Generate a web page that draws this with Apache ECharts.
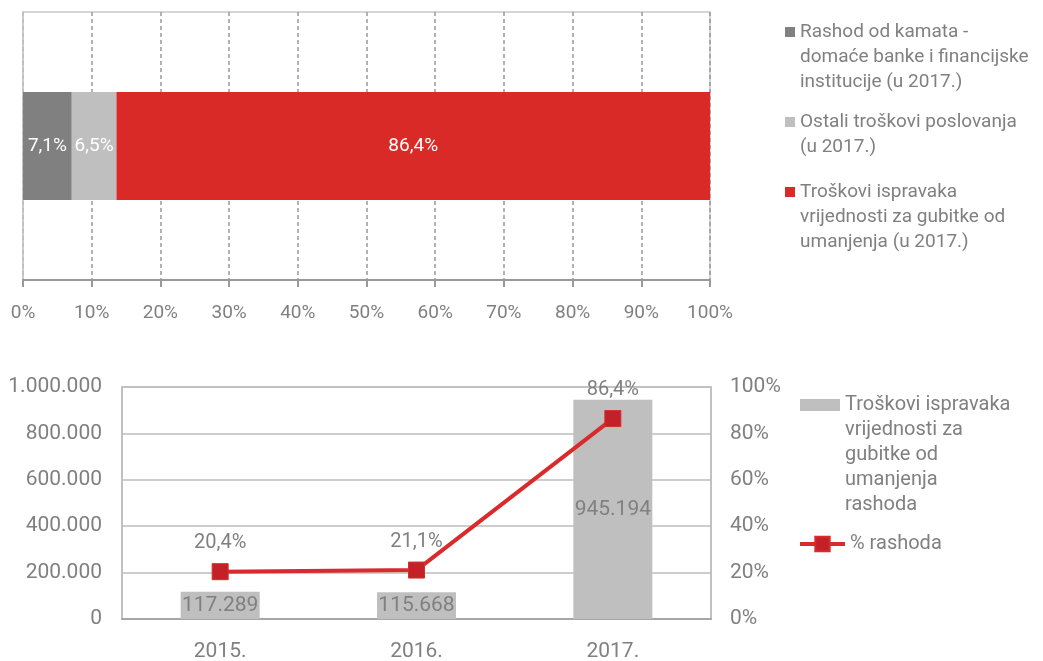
<!DOCTYPE html>
<html>
<head>
<meta charset="utf-8">
<script src="https://cdn.jsdelivr.net/npm/echarts@6/dist/echarts.min.js"></script>
<style>
	html, body { margin: 0; padding: 0; background: #fff; }
	#chart { width: 1043px; height: 661px; }
</style>
</head>
<body>
<div id="chart"></div>
<script>
// top chart: cost structure in 2017 (%)
const shareNames = [
	"Rashod od kamata -\ndomaće banke i financijske\ninstitucije (u 2017.)",
	"Ostali troškovi poslovanja\n(u 2017.)",
	"Troškovi ispravaka\nvrijednosti za gubitke od\numanjenja (u 2017.)"
];
const shareValues = [7.1, 6.5, 86.4];
const shareColors = ["#808080", "#bfbfbf", "#da2a27"];

// bottom chart
const years = ["2015.", "2016.", "2017."];
const impairmentName = "Troškovi ispravaka\nvrijednosti za\ngubitke od\numanjenja\nrashoda";
const impairment = [117289, 115668, 945194];
const pctName = "% rashoda";
const pctOfCosts = [20.4, 21.1, 86.4];

const FONT = "Roboto, 'Noto Sans', sans-serif";
const GREY = "#808080";
const LINE_H = 25;

function thousands(v) {
	return String(v).replace(/\B(?=(\d{3})+(?!\d))/g, ".");
}
function pct(v) {
	return v.toFixed(1).replace(".", ",") + "%";
}

// one legend per entry; blank lines in front keep the icon on the first text line
function legendFor(name, left, firstLineY, size, opts) {
	const extra = name.split("\n").length - 1;
	return Object.assign({
		orient: "vertical",
		left: left,
		top: firstLineY - LINE_H / 2 - extra * LINE_H,
		padding: 0,
		itemWidth: 10,
		itemHeight: 10,
		icon: "rect",
		selectedMode: false,
		data: [name],
		formatter: function (n) {
			return "\n".repeat(extra) + n;
		},
		textStyle: {
			color: GREY,
			fontSize: size,
			fontFamily: FONT,
			lineHeight: LINE_H
		}
	}, opts || {});
}

const chart = echarts.init(document.getElementById("chart"));

chart.setOption({
	animation: false,
	textStyle: { fontFamily: FONT },
	legend: [
		legendFor(shareNames[0], 785, 32, 19),
		legendFor(shareNames[1], 785, 122, 19),
		legendFor(shareNames[2], 785, 192, 19),
		legendFor(impairmentName, 800, 405, 20, { itemWidth: 40, itemHeight: 12 }),
		legendFor(pctName, 798, 544, 20, {
			itemWidth: 45,
			itemHeight: 18,
			icon: null,
			lineStyle: { width: 4 }
		})
	],
	grid: [
		{
			left: 23,
			top: 12,
			width: 687,
			height: 268,
			show: true,
			borderColor: "#c8c8c8",
			borderWidth: 1.5,
			containLabel: false,
			outerBoundsMode: "none"
		},
		{
			left: 122,
			top: 387,
			width: 589,
			height: 232,
			show: true,
			borderColor: "#bdbdbd",
			borderWidth: 1.5,
			containLabel: false,
			outerBoundsMode: "none"
		}
	],
	xAxis: [
		{
			gridIndex: 0,
			type: "value",
			min: 0,
			max: 100,
			interval: 10,
			axisLine: {
				show: true,
				lineStyle: { color: "#999", width: 2 }
			},
			axisTick: {
				show: true,
				length: 7,
				lineStyle: { color: "#999", width: 2 }
			},
			axisLabel: {
				formatter: "{value}%",
				color: GREY,
				fontSize: 19,
				margin: 24
			},
			splitLine: {
				show: true,
				lineStyle: { color: "#999", width: 1.5, type: [4, 3] }
			}
		},
		{
			gridIndex: 1,
			type: "category",
			data: years,
			axisLine: {
				show: true,
				lineStyle: { color: "#a6a6a6", width: 2 }
			},
			axisTick: { show: false },
			axisLabel: {
				color: GREY,
				fontSize: 21,
				margin: 22
			}
		}
	],
	yAxis: [
		{
			gridIndex: 0,
			type: "category",
			data: ["2017."],
			axisLine: {
				show: true,
				lineStyle: { color: "#c8c8c8", width: 1.5 }
			},
			axisTick: { show: false },
			axisLabel: { show: false }
		},
		{
			gridIndex: 1,
			type: "value",
			min: 0,
			max: 1000000,
			interval: 200000,
			axisLine: {
				show: true,
				lineStyle: { color: "#bdbdbd", width: 1.5 }
			},
			axisTick: { show: false },
			axisLabel: {
				formatter: thousands,
				color: GREY,
				fontSize: 21,
				margin: 20
			},
			splitLine: {
				lineStyle: { color: "#bdbdbd", width: 1.5 }
			}
		},
		{
			gridIndex: 1,
			type: "value",
			position: "right",
			min: 0,
			max: 100,
			interval: 20,
			axisLine: {
				show: true,
				lineStyle: { color: "#bdbdbd", width: 1.5 }
			},
			axisTick: { show: false },
			axisLabel: {
				formatter: "{value}%",
				color: GREY,
				fontSize: 21,
				margin: 19
			},
			splitLine: { show: false }
		}
	],
	series: shareNames.map(function (name, i) {
		return {
			name: name,
			type: "bar",
			stack: "share",
			xAxisIndex: 0,
			yAxisIndex: 0,
			barWidth: 108,
			itemStyle: { color: shareColors[i] },
			label: {
				show: true,
				position: "inside",
				color: "#fff",
				fontSize: 19,
				formatter: function (p) { return pct(p.value); }
			},
			data: [shareValues[i]]
		};
	}).concat([
		{
			name: impairmentName,
			type: "bar",
			xAxisIndex: 1,
			yAxisIndex: 1,
			barWidth: 79,
			itemStyle: { color: "#bfbfbf" },
			label: {
				show: true,
				position: "inside",
				color: GREY,
				fontSize: 21,
				formatter: function (p) { return thousands(p.value); }
			},
			data: impairment
		},
		{
			name: pctName,
			type: "line",
			xAxisIndex: 1,
			yAxisIndex: 2,
			symbol: "rect",
			symbolSize: 16,
			z: 5,
			lineStyle: { color: "#d92b2b", width: 4 },
			itemStyle: { color: "#c42028", borderColor: "#d92b2b", borderWidth: 1 },
			label: {
				show: true,
				position: "top",
				distance: 10,
				color: GREY,
				fontSize: 20,
				formatter: function (p) { return pct(p.value); }
			},
			data: pctOfCosts
		}
	])
});

window.addEventListener("resize", function () {
	chart.resize();
});
</script>
</body>
</html>
